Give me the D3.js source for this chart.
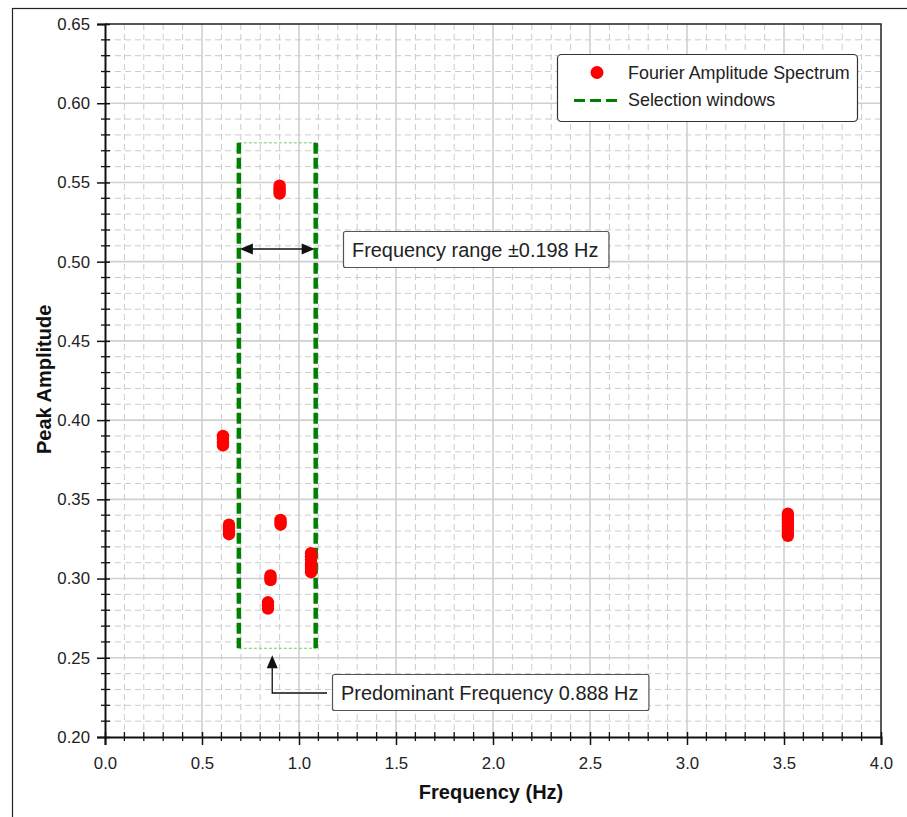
<!DOCTYPE html>
<html>
<head>
<meta charset="utf-8">
<script src="https://cdn.jsdelivr.net/npm/d3@7"></script>
<style>
  body { margin: 0; background: #fff; }
  svg { display: block; font-family: "Liberation Sans", Arial, sans-serif; }
</style>
</head>
<body>
<div id="chart"></div>
<script>
// peak clusters (Hz, amplitude)
const freqs = [0.900, 0.900, 0.900, 0.900,
               0.608, 0.608, 0.608, 0.608,
               0.639, 0.639, 0.639, 0.639,
               0.905, 0.905, 0.905,
               1.062, 1.062, 1.062, 1.062, 1.062, 1.062, 1.062,
               0.853, 0.853, 0.853,
               0.840, 0.840, 0.840,
               3.520, 3.520, 3.520, 3.520, 3.520, 3.520, 3.520, 3.520];
const amps  = [0.548, 0.546, 0.5445, 0.543,
               0.390, 0.388, 0.386, 0.384,
               0.334, 0.332, 0.330, 0.328,
               0.337, 0.3355, 0.334,
               0.316, 0.314, 0.312, 0.310, 0.308, 0.306, 0.304,
               0.302, 0.3005, 0.299,
               0.285, 0.283, 0.281,
               0.341, 0.339, 0.337, 0.335, 0.333, 0.331, 0.329, 0.327];

const predominant = 0.888;
const halfRange = 0.198;
const windowAmp = [0.256, 0.575];
const arrowAmp = 0.508;

const xTicks = [0.0, 0.5, 1.0, 1.5, 2.0, 2.5, 3.0, 3.5, 4.0];
const yTicks = [0.20, 0.25, 0.30, 0.35, 0.40, 0.45, 0.50, 0.55, 0.60, 0.65];
const legendLabels = ["Fourier Amplitude Spectrum", "Selection windows"];

const W = 907, H = 817;
const margin = {top: 24, right: 26, bottom: 80, left: 105},
      width = W - margin.left - margin.right,
      height = H - margin.top - margin.bottom;

const svg = d3.select("#chart").append("svg")
    .attr("width", W).attr("height", H);

// outer frame
svg.append("rect")
    .attr("x", 12.5).attr("y", 8.5)
    .attr("width", 920).attr("height", 840)
    .attr("fill", "none").attr("stroke", "#222").attr("stroke-width", 1.2);

const g = svg.append("g").attr("transform", `translate(${margin.left},${margin.top})`);

const x = d3.scaleLinear().domain([0, 4]).range([0, width]);
const y = d3.scaleLinear().domain([0.2, 0.65]).range([height, 0]);

const minorX = d3.range(0, 41).map(i => i / 10).filter(v => Math.abs(v * 2 - Math.round(v * 2)) > 1e-6);
const minorY = d3.range(20, 66).map(i => i / 100).filter(v => Math.abs(v * 20 - Math.round(v * 20)) > 1e-6);

// minor dashed grid
g.append("g").selectAll("line").data(minorX).enter().append("line")
    .attr("x1", d => x(d)).attr("x2", d => x(d))
    .attr("y1", 0).attr("y2", height)
    .attr("stroke", "#cbcbcb").attr("stroke-dasharray", "6,4");
g.append("g").selectAll("line").data(minorY).enter().append("line")
    .attr("y1", d => y(d)).attr("y2", d => y(d))
    .attr("x1", 0).attr("x2", width)
    .attr("stroke", "#cbcbcb").attr("stroke-dasharray", "6,4");

// major grid
g.append("g").selectAll("line").data(xTicks.slice(1, -1)).enter().append("line")
    .attr("x1", d => x(d)).attr("x2", d => x(d))
    .attr("y1", 0).attr("y2", height)
    .attr("stroke", "#d0d0d0").attr("stroke-width", 1.6);
g.append("g").selectAll("line").data(yTicks.slice(1, -1)).enter().append("line")
    .attr("y1", d => y(d)).attr("y2", d => y(d))
    .attr("x1", 0).attr("x2", width)
    .attr("stroke", "#d0d0d0").attr("stroke-width", 1.6);

// plot border (top/right)
g.append("path")
    .attr("d", `M0,0H${width}V${height}`)
    .attr("fill", "none").attr("stroke", "#222").attr("stroke-width", 1.5);

// axes
const xAxis = g.append("g").attr("transform", `translate(0,${height})`)
    .call(d3.axisBottom(x).tickValues(xTicks).tickFormat(d3.format(".1f")).tickSize(8).tickPadding(12));
const yAxis = g.append("g")
    .call(d3.axisLeft(y).tickValues(yTicks).tickFormat(d3.format(".2f")).tickSize(8).tickPadding(7));

[xAxis, yAxis].forEach(a => {
    a.select(".domain").attr("stroke", "#111").attr("stroke-width", 2);
    a.selectAll(".tick line").attr("stroke", "#111").attr("stroke-width", 1.5);
    a.selectAll(".tick text").attr("font-size", 16.8).attr("fill", "#222")
        .attr("font-family", "Liberation Sans, Arial, sans-serif");
});
// major ticks poke into the plot too
xAxis.selectAll(".tick line").attr("y1", -5);
yAxis.selectAll(".tick line").attr("x1", 5);

// minor ticks
g.append("g").selectAll("line").data(minorX).enter().append("line")
    .attr("x1", d => x(d)).attr("x2", d => x(d))
    .attr("y1", height - 5).attr("y2", height + 4)
    .attr("stroke", "#111").attr("stroke-width", 1.3);
g.append("g").selectAll("line").data(minorY).enter().append("line")
    .attr("y1", d => y(d)).attr("y2", d => y(d))
    .attr("x1", -4).attr("x2", 5)
    .attr("stroke", "#111").attr("stroke-width", 1.3);

// axis titles
svg.append("text")
    .attr("x", margin.left + x(1.99)).attr("y", 799)
    .attr("text-anchor", "middle")
    .attr("font-size", 20).attr("font-weight", "bold").attr("fill", "#111")
    .text("Frequency (Hz)");
svg.append("text")
    .attr("transform", `translate(51,${margin.top + y(0.4257)}) rotate(-90)`)
    .attr("text-anchor", "middle")
    .attr("font-size", 20).attr("font-weight", "bold").attr("fill", "#111")
    .text("Peak Amplitude");

// selection window
const lo = predominant - halfRange, hi = predominant + halfRange;
g.append("g").selectAll("line").data([windowAmp[0], windowAmp[1]]).enter().append("line")
    .attr("x1", x(lo)).attr("x2", x(hi))
    .attr("y1", d => y(d)).attr("y2", d => y(d))
    .attr("stroke", "#7cc47c").attr("stroke-width", 1).attr("stroke-dasharray", "3,2");
g.append("g").selectAll("line").data([lo, hi]).enter().append("line")
    .attr("x1", d => x(d)).attr("x2", d => x(d))
    .attr("y1", y(windowAmp[1])).attr("y2", y(windowAmp[0]))
    .attr("stroke", "#008000").attr("stroke-width", 4.5).attr("stroke-dasharray", "11,4");

// points
g.append("g").selectAll("circle").data(freqs).enter().append("circle")
    .attr("cx", (d, i) => x(d))
    .attr("cy", (d, i) => y(amps[i]))
    .attr("r", 6.2)
    .attr("fill", "#ff0000");

// arrowheads
function head(px, py, ang) {
    const L = 13, w = 5.5;
    const p = [[0, 0], [-L, -w], [-L, w]].map(([a, b]) => [
        px + a * Math.cos(ang) - b * Math.sin(ang),
        py + a * Math.sin(ang) + b * Math.cos(ang)]);
    g.append("path").attr("d", "M" + p.join("L") + "Z").attr("fill", "#111");
}

// double arrow for the range
const ay = y(arrowAmp);
g.append("line")
    .attr("x1", x(lo) + 6).attr("x2", x(hi) - 6)
    .attr("y1", ay).attr("y2", ay)
    .attr("stroke", "#111").attr("stroke-width", 1.5);
head(x(lo) + 1, ay, Math.PI);
head(x(hi) - 1, ay, 0);

// annotation boxes
function labelBox(tx, ty, txt) {
    const box = g.append("rect");
    const t = g.append("text")
        .attr("x", tx).attr("y", ty)
        .attr("font-size", 19.9).attr("fill", "#222")
        .text(txt);
    const bb = t.node().getBBox();
    box.attr("x", bb.x - 8.5).attr("y", ty - 25.5)
        .attr("width", bb.width + 19).attr("height", 36)
        .attr("rx", 2)
        .attr("fill", "#fff").attr("stroke", "#555").attr("stroke-width", 1.2);
}
labelBox(352 - margin.left, 257 - margin.top, "Frequency range \u00b1" + halfRange.toFixed(3) + " Hz");
labelBox(341 - margin.left, 700 - margin.top, "Predominant Frequency " + predominant.toFixed(3) + " Hz");

// elbow arrow to the predominant frequency
const ex = x(0.862), eyTop = y(0.2516), eyMid = 693 - margin.top;
g.append("path")
    .attr("d", `M${327 - margin.left},${eyMid}H${ex}V${eyTop + 8}`)
    .attr("fill", "none").attr("stroke", "#111").attr("stroke-width", 1.3);
head(ex, eyTop, -Math.PI / 2);

// legend
const lg = svg.append("g");
lg.append("rect")
    .attr("x", 557.5).attr("y", 54.5).attr("width", 300).attr("height", 67)
    .attr("rx", 4)
    .attr("fill", "#fff").attr("stroke", "#333").attr("stroke-width", 1.2);
lg.append("circle").attr("cx", 597).attr("cy", 72.5).attr("r", 6.5).attr("fill", "#ff0000");
lg.append("line").attr("x1", 574).attr("x2", 620).attr("y1", 100.5).attr("y2", 100.5)
    .attr("stroke", "#008000").attr("stroke-width", 3).attr("stroke-dasharray", "11,5");
lg.selectAll("text.lab").data(legendLabels).enter().append("text")
    .attr("class", "lab")
    .attr("x", 628).attr("y", (d, i) => 78.5 + i * 27)
    .attr("font-size", 17.9).attr("fill", "#222")
    .text(d => d);
</script>
</body>
</html>
